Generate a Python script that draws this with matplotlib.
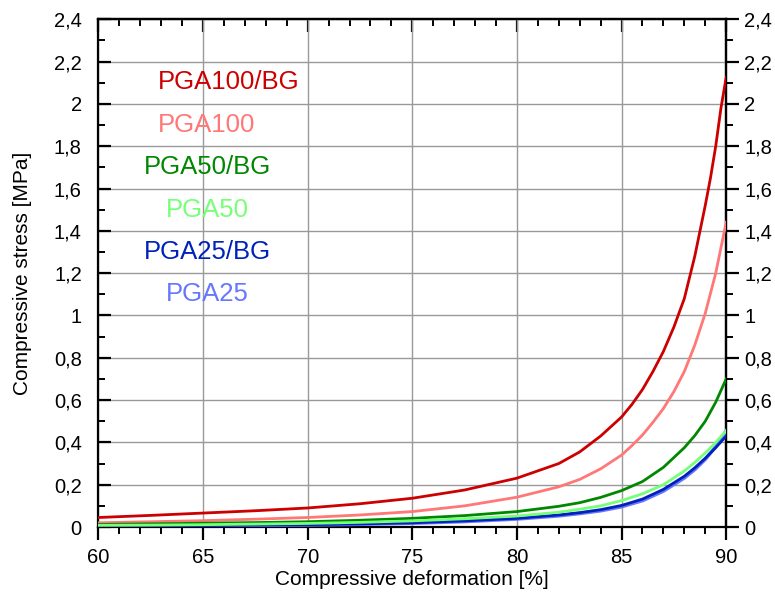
import matplotlib
matplotlib.use("Agg")
import matplotlib.pyplot as plt
from matplotlib.ticker import MultipleLocator

plt.rcParams['font.family'] = ['Liberation Sans', 'DejaVu Sans']

# ---- data ----
x_red = [60, 62.5, 65, 67.5, 70, 72.5, 75, 77.5, 80, 82, 83, 84, 85, 85.5, 86, 86.5, 87, 87.5, 88, 88.5, 89, 89.25, 89.5, 89.75, 90]
pga100bg = [0.045, 0.055, 0.066, 0.077, 0.090, 0.110, 0.136, 0.175, 0.231, 0.300, 0.355, 0.430, 0.520, 0.580, 0.650, 0.735, 0.830, 0.945, 1.080, 1.280, 1.520, 1.650, 1.800, 1.980, 2.125]

x_pink = [60, 62.5, 65, 67.5, 70, 72.5, 75, 77.5, 80, 82, 83, 84, 85, 85.5, 86, 86.5, 87, 87.5, 88, 88.5, 89, 89.5, 90]
pga100 = [0.020, 0.025, 0.030, 0.037, 0.045, 0.057, 0.073, 0.100, 0.141, 0.190, 0.225, 0.275, 0.340, 0.385, 0.435, 0.495, 0.560, 0.640, 0.735, 0.860, 1.010, 1.200, 1.440]

x_low = [60, 62.5, 65, 67.5, 70, 72.5, 75, 77.5, 80, 82, 83, 84, 85, 86, 87, 88, 88.5, 89, 89.5, 90]
pga50bg = [0.012, 0.015, 0.018, 0.021, 0.025, 0.032, 0.041, 0.054, 0.073, 0.098, 0.115, 0.140, 0.172, 0.215, 0.282, 0.375, 0.432, 0.500, 0.590, 0.700]
pga50 = [0.008, 0.009, 0.011, 0.014, 0.017, 0.022, 0.029, 0.039, 0.052, 0.070, 0.084, 0.100, 0.125, 0.157, 0.200, 0.265, 0.305, 0.350, 0.400, 0.455]
pga25bg = [0.005, 0.006, 0.007, 0.009, 0.011, 0.015, 0.020, 0.029, 0.041, 0.057, 0.068, 0.082, 0.102, 0.132, 0.178, 0.240, 0.280, 0.325, 0.375, 0.430]
pga25 = [0.004, 0.005, 0.006, 0.008, 0.010, 0.013, 0.018, 0.026, 0.038, 0.053, 0.064, 0.077, 0.096, 0.125, 0.170, 0.232, 0.272, 0.320, 0.380, 0.455]

series_names = ["PGA100/BG", "PGA100", "PGA50/BG", "PGA50", "PGA25/BG", "PGA25"]
series_colors = ["#CC0000", "#FF7777", "#008800", "#77FF77", "#0022BB", "#6677FF"]

xticks = [60, 65, 70, 75, 80, 85, 90]
xtick_labels = ["60", "65", "70", "75", "80", "85", "90"]
yticks = [0, 0.2, 0.4, 0.6, 0.8, 1.0, 1.2, 1.4, 1.6, 1.8, 2.0, 2.2, 2.4]
ytick_labels = ["0", "0,2", "0,4", "0,6", "0,8", "1", "1,2", "1,4", "1,6", "1,8", "2", "2,2", "2,4"]

# label positions (data coords) for the in-plot annotations
label_x = [62.85, 62.85, 65.2, 65.2, 65.2, 65.2]
label_y = [2.105, 1.90, 1.70, 1.50, 1.30, 1.10]
label_ha = ["left", "left", "center", "center", "center", "center"]

fig = plt.figure(figsize=(7.75, 6.03), dpi=100)
ax = fig.add_axes([0.127, 0.126, 0.810, 0.842])

ax.plot(x_pink, pga100, color=series_colors[1], lw=2.0, zorder=3)
ax.plot(x_red, pga100bg, color=series_colors[0], lw=2.0, zorder=4)
ax.plot(x_low, pga50bg, color=series_colors[2], lw=2.0, zorder=3)
ax.plot(x_low, pga25, color=series_colors[5], lw=2.6, zorder=3)
ax.plot(x_low, pga25bg, color=series_colors[4], lw=2.0, zorder=4)
ax.plot(x_low, pga50, color=series_colors[3], lw=2.0, zorder=5)

for name, c, lx, ly, ha in zip(series_names, series_colors, label_x, label_y, label_ha):
    ax.text(lx, ly, name, color=c, fontsize=18.5, ha=ha, va="center", zorder=6)

ax.set_xlim(60, 90)
ax.set_ylim(0, 2.4)
ax.set_xticks(xticks)
ax.set_xticklabels(xtick_labels)
ax.set_yticks(yticks)
ax.set_yticklabels(ytick_labels)
ax.xaxis.set_minor_locator(MultipleLocator(1))
ax.yaxis.set_minor_locator(MultipleLocator(0.1))

ax.grid(True, which="major", color="#999999", lw=1.0, zorder=0)
ax.set_axisbelow(True)

for s in ax.spines.values():
    s.set_linewidth(1.6)
    s.set_color("black")

# bottom: outward ticks; top: inward ticks; left: inward; right: outward with labels
ax.tick_params(axis="x", which="both", bottom=True, top=False, direction="out", labelsize=14.5, pad=6)
ax.tick_params(axis="x", which="major", length=9, width=1.6)
ax.tick_params(axis="x", which="minor", length=5, width=1.4)
ax.tick_params(axis="y", which="both", left=True, right=False, direction="in", labelsize=14.5, pad=12)
ax.tick_params(axis="y", which="major", length=9, width=1.6)
ax.tick_params(axis="y", which="minor", length=5, width=1.4)

secx = ax.secondary_xaxis("top")
secx.set_xticks(xticks)
secx.xaxis.set_minor_locator(MultipleLocator(1))
secx.tick_params(axis="x", which="both", direction="in", labeltop=False)
secx.tick_params(axis="x", which="major", length=9, width=1.6)
secx.tick_params(axis="x", which="minor", length=5, width=1.4)
secx.spines["top"].set_linewidth(1.6)

secy = ax.secondary_yaxis("right")
secy.set_yticks(yticks)
secy.set_yticklabels(ytick_labels)
secy.yaxis.set_minor_locator(MultipleLocator(0.1))
secy.tick_params(axis="y", which="both", direction="out", labelsize=14.5, pad=4)
secy.tick_params(axis="y", which="major", length=9, width=1.6)
secy.tick_params(axis="y", which="minor", length=5, width=1.4)
secy.spines["right"].set_linewidth(1.6)

ax.set_xlabel("Compressive deformation [%]", fontsize=15, labelpad=2)
ax.set_ylabel("Compressive stress [MPa]", fontsize=15, labelpad=16)

fig.savefig("out.png", dpi=100)
